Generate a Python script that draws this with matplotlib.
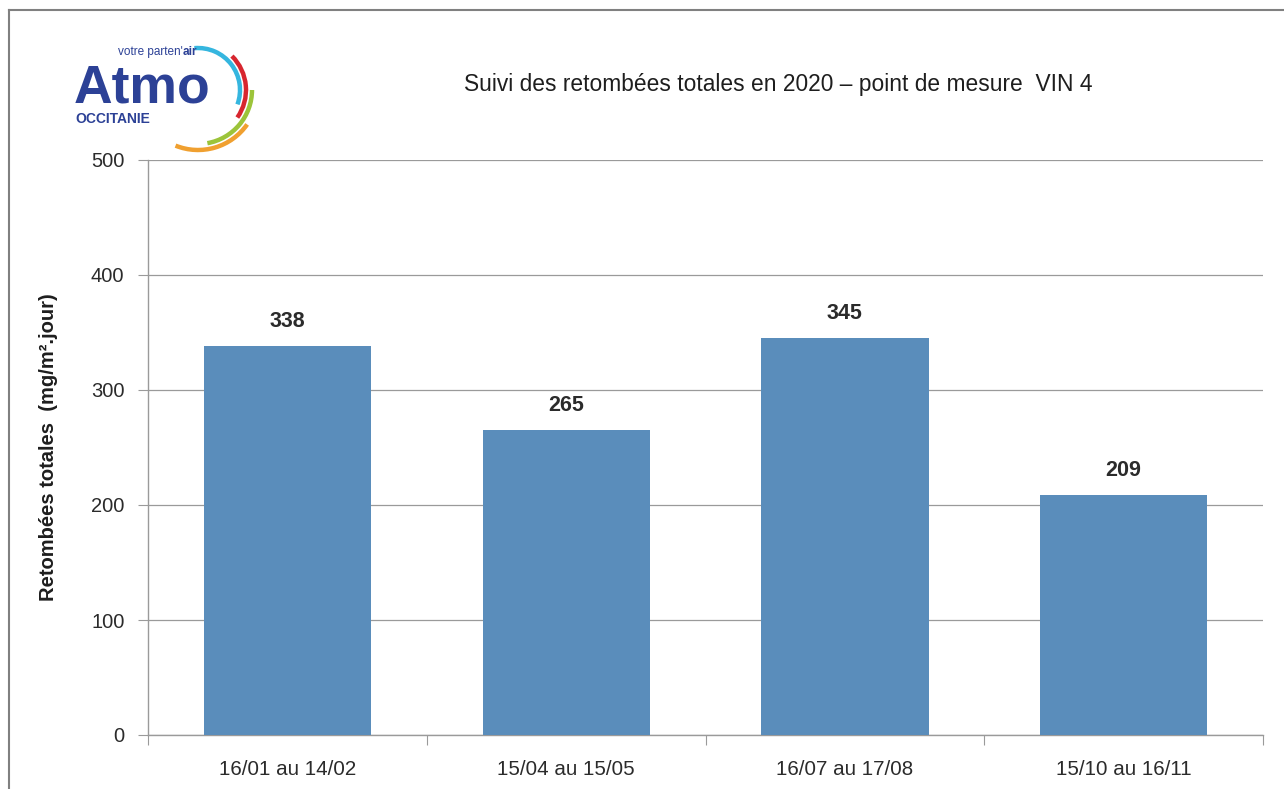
import matplotlib.pyplot as plt
from matplotlib.lines import Line2D
from matplotlib.patches import Arc

plt.rcParams["font.family"] = ["Liberation Sans", "DejaVu Sans"]

periods = ["16/01 au 14/02", "15/04 au 15/05", "16/07 au 17/08", "15/10 au 16/11"]
retombees = [338, 265, 345, 209]
y_ticks = [0, 100, 200, 300, 400, 500]

bar_color = "#5A8DBB"
grid_color = "#9a9a9a"
text_color = "#2b2b2b"

fig = plt.figure(figsize=(12.84, 7.89), dpi=100)
W, H = 1284, 789
ax = fig.add_axes([148 / W, 1 - 735 / H, (1263 - 148) / W, (735 - 160) / H])

x = list(range(len(periods)))
bars = ax.bar(x, retombees, width=0.6, color=bar_color, zorder=3)
for b, v in zip(bars, retombees):
    ax.text(b.get_x() + b.get_width() / 2, v + 12, str(v), ha="center", va="bottom",
            fontsize=15.5, fontweight="bold", color=text_color)

ax.set_xlim(-0.5, len(periods) - 0.5)
ax.set_ylim(0, 500)
ax.set_yticks(y_ticks)
ax.set_yticklabels([str(t) for t in y_ticks], fontsize=14.5, color=text_color)
ax.yaxis.grid(True, color=grid_color, linewidth=0.9, zorder=0)
ax.set_xticks([i - 0.5 for i in range(len(periods) + 1)])
ax.set_xticklabels([])
ax.set_xticks(x, minor=True)
ax.set_xticklabels(periods, minor=True, fontsize=14.8, color=text_color)
ax.tick_params(axis="x", which="minor", length=0, pad=18)
ax.tick_params(axis="x", which="major", length=7, color=grid_color, direction="out")
ax.tick_params(axis="y", length=7, color=grid_color, pad=10)
for side in ["top", "right"]:
    ax.spines[side].set_visible(False)
for side in ["left", "bottom"]:
    ax.spines[side].set_color(grid_color)
    ax.spines[side].set_linewidth(1.0)

ax.set_ylabel("Retombées totales  (mg/m².jour)", fontsize=14.5, fontweight="bold",
              color="#1e1e1e", labelpad=24)

fig.text(778 / W, 1 - 85 / H, "Suivi des retombées totales en 2020 – point de mesure  VIN 4",
         ha="center", va="center", fontsize=16.4, color="#1e1e1e")

# outer frame
fig.add_artist(Line2D([9 / W, 9 / W], [0, 1 - 10 / H], color="#808080", lw=1.5))
fig.add_artist(Line2D([9 / W, 1], [1 - 10 / H, 1 - 10 / H], color="#808080", lw=1.5))

# logo
lg = fig.add_axes([0, 0, 1, 1], zorder=5)
lg.set_xlim(0, W)
lg.set_ylim(H, 0)
lg.axis("off")
blue = "#2C4196"
lg.text(74, 102, "Atmo", fontsize=38.5, fontweight="bold", color=blue, va="baseline", ha="left")
t1 = lg.text(118, 55, "votre parten'", fontsize=8.5, color=blue, va="baseline", ha="left")
lg.annotate("air", xy=(1, 0), xycoords=t1, fontsize=8.5, fontweight="bold", color=blue,
            va="bottom", ha="left")
lg.text(75, 123, "OCCITANIE", fontsize=10, fontweight="bold", color=blue, va="baseline",
        ha="left")
arcs = [("#35B6DF", 42, -95, 20), ("#D7262F", 48, -45, 35),
        ("#9CC43A", 54, 0, 80), ("#F0A030", 60, 35, 112)]
for c, r, a1, a2 in arcs:
    lg.add_patch(Arc((198, 90), 2 * r, 2 * r, theta1=a1, theta2=a2, color=c, lw=3.2))

fig.savefig("out.png", dpi=100)
